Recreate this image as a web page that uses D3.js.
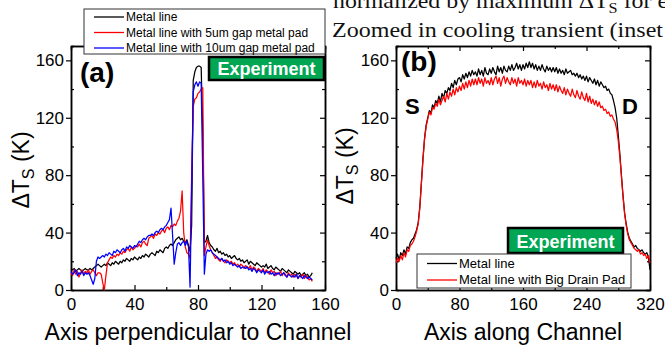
<!DOCTYPE html>
<html>
<head>
<meta charset="utf-8">
<script src="https://cdn.jsdelivr.net/npm/d3@7"></script>
<style>
  body { margin: 0; background: #fff; }
  svg { display: block; font-family: Arial, "Liberation Sans", sans-serif; }
</style>
</head>
<body>
<svg id="chart" width="665" height="345"></svg>
<script>
// panel (a): temperature rise across the channel, one sample per unit
const perpStart = 0, perpStep = 1;
const perpMetal = [
  15,14,15,13,14,15,14,13,14,15, 14,14,15,14,15,16,17,18,17,16,
  17,18,17,19,18,17,19,18,20,19, 18,20,19,21,20,22,21,20,22,21,
  23,22,21,23,22,24,23,25,24,23, 25,26,25,24,27,26,28,27,26,29,
  30,29,31,32,31,33,35,36,37,35, 36,34,33,35,31,27,45,146,152,155,
  156,156,155,110,33,34,38,33,31,30, 28,27,29,26,27,25,26,24,25,23,
  24,22,23,24,22,21,22,20,21,19, 20,21,18,20,19,18,17,19,18,17,
  16,17,16,18,15,16,17,15,14,16, 15,14,13,15,14,13,12,14,13,12,
  11,13,12,11,12,10,11,12,10,11, 9,10,12
];
const perpGap5 = [
  12,10,14,11,13,9,12,14,11,13, 12,14,11,13,14,12,10,12,12,11,
  5,0,10,19,21,23,22,24,23,25, 24,26,25,27,26,28,29,27,30,28,
  29,31,30,32,30,33,34,32,31,36, 37,38,36,39,38,40,39,41,42,40,
  43,44,42,45,44,46,45,48,50,55, 69,40,30,26,25,22,80,128,133,134,
  137,138,140,141,24,30,35,31,28,26, 24,22,23,21,20,22,20,19,21,20,
  19,20,18,19,17,18,16,18,17,15, 17,16,15,17,14,16,15,13,15,14,
  13,15,12,14,13,11,14,12,13,10, 12,11,13,10,12,11,9,12,10,11,
  9,11,10,8,10,9,11,8,10,9, 7,8,6
];
const perpGap10 = [
  13,11,12,14,10,12,11,13,10,12, 11,12,10,7,4,8,20,23,22,23,
  24,23,25,24,26,25,24,27,26,28, 27,26,28,29,27,30,29,31,30,29,
  31,30,32,34,33,35,36,35,37,38, 38,39,38,40,41,40,42,43,42,44,
  45,47,49,57,38,18,26,32,33,31, 33,34,31,34,30,2,70,138,143,145,
  142,145,144,80,11,25,28,27,28,26, 25,24,23,22,21,22,20,21,19,20,
  18,19,17,18,17,16,17,15,16,16, 15,16,14,15,13,15,14,12,14,13,
  12,14,11,13,12,13,11,12,10,12, 11,12,10,11,12,10,9,11,10,9,
  10,9,11,8,10,9,8,10,9,8, 9,8,7
];

// panel (b): temperature rise along the channel, one sample every 2 units
const alongStart = 0, alongStep = 2;
const alongMetal = [
  22,25,21,26,24,28,25,30,29,33,
  35,36,39,42,47,58,75,92,106,115,
  120,125,123,129,127,132,130,135,131,137,
  134,139,137,141,139,144,141,146,143,147,
  148,145,150,147,151,148,152,149,153,150,
  152,149,154,150,153,149,155,151,150,154,
  151,155,152,150,156,152,155,151,156,153,
  152,156,153,157,153,155,158,154,157,153,
  157,154,158,155,159,155,158,154,157,153,
  156,153,157,154,152,156,153,155,152,155,
  152,155,151,154,151,153,150,154,151,152,
  153,150,151,149,151,148,150,147,149,146,
  149,145,148,146,144,147,143,146,142,145,
  143,141,142,139,140,137,136,132,127,120,
  108,95,80,66,54,46,40,36,34,32,
  30,31,29,28,27,28,26,25,26,23,
  14
];
const alongDrainPad = [
  19,22,20,24,21,26,23,28,27,31,
  32,34,37,41,46,57,74,91,105,114,
  119,124,122,127,126,130,128,133,129,132,
  135,131,137,133,138,135,140,136,141,138,
  142,139,144,140,145,141,146,142,147,143,
  147,143,148,144,147,142,148,144,146,143,
  148,143,147,149,144,148,142,147,149,144,
  148,145,143,148,144,147,142,148,144,146,
  143,147,142,146,143,146,141,145,141,146,
  142,144,140,145,141,143,139,144,140,143,
  139,143,138,142,139,137,141,136,140,137,
  135,140,136,134,139,135,133,138,134,132,
  137,131,135,130,133,129,132,128,131,127,
  128,125,126,123,124,121,122,119,117,112,
  104,93,79,65,53,45,39,35,33,31,
  29,28,27,28,25,26,24,25,22,24,
  19
];

const tempTicks = [0, 40, 80, 120, 160];
const tempMinor = [20, 60, 100, 140];
const perpTicks = [0, 40, 80, 120, 160];
const perpMinor = [20, 60, 100, 140];
const alongTicks = [0, 80, 160, 240, 320];
const alongMinor = [40, 120, 200, 280];

const plotTop = 46, plotBottom = 290;
const svg = d3.select('#chart');

function styleAxis(g) {
  g.attr('font-family', 'Arial, "Liberation Sans", sans-serif').attr('font-size', 17);
  g.select('.domain').attr('stroke', '#000').attr('stroke-width', 1.5);
  g.selectAll('.tick line').attr('stroke', '#000').attr('stroke-width', 1.2);
  g.selectAll('.tick text').attr('fill', '#000');
}

function drawPanel(p) {
  const x = d3.scaleLinear().domain(p.xDomain).range([p.left, p.right]);
  const y = d3.scaleLinear().domain([0, 170]).range([plotBottom, plotTop]);
  const g = svg.append('g');

  // minor ticks (all inward)
  g.append('g').attr('transform', `translate(0,${plotBottom})`)
    .call(d3.axisBottom(x).tickValues(p.xMinor).tickSizeInner(-3).tickSizeOuter(0).tickFormat(''))
    .call(styleAxis);
  g.append('g').attr('transform', `translate(0,${plotTop})`)
    .call(d3.axisBottom(x).tickValues(p.xMinor).tickSize(3).tickFormat(''))
    .call(styleAxis);
  g.append('g').attr('transform', `translate(${p.left},0)`)
    .call(d3.axisRight(y).tickValues(tempMinor).tickSize(3).tickFormat(''))
    .call(styleAxis);
  g.append('g').attr('transform', `translate(${p.right},0)`)
    .call(d3.axisLeft(y).tickValues(tempMinor).tickSize(3).tickFormat(''))
    .call(styleAxis);

  // major ticks
  g.append('g').attr('transform', `translate(0,${plotBottom})`)
    .call(d3.axisBottom(x).tickValues(p.xTicks).tickSizeInner(-5).tickSizeOuter(0).tickPadding(8))
    .call(styleAxis);
  g.append('g').attr('transform', `translate(0,${plotTop})`)
    .call(d3.axisBottom(x).tickValues(p.xTicks).tickSizeInner(5).tickSizeOuter(0).tickFormat(''))
    .call(styleAxis);
  g.append('g').attr('transform', `translate(${p.left},0)`)
    .call(d3.axisLeft(y).tickValues(tempTicks).tickSizeInner(5).tickSizeOuter(0).tickPadding(2))
    .call(styleAxis);
  g.append('g').attr('transform', `translate(${p.right},0)`)
    .call(d3.axisLeft(y).tickValues(tempTicks).tickSizeInner(-5).tickSizeOuter(0).tickFormat(''))
    .call(styleAxis)
    .selectAll('.tick line').attr('x2', -5);

  // data
  p.series.forEach(s => {
    const line = d3.line()
      .x((d, i) => x(p.start + i * p.step))
      .y(d => y(d));
    g.append('path')
      .datum(s.values)
      .attr('fill', 'none')
      .attr('stroke', s.color)
      .attr('stroke-width', 1.25)
      .attr('stroke-linejoin', 'round')
      .attr('d', line);
  });

  // axis titles
  g.append('text')
    .attr('x', (p.left + p.right) / 2).attr('y', 339.5)
    .attr('text-anchor', 'middle').attr('font-size', 23)
    .text(p.xTitle);
  const yt = g.append('text')
    .attr('transform', `translate(${p.yTitleX},${p.yTitleY}) rotate(-90)`)
    .attr('text-anchor', 'middle').attr('font-size', 23);
  yt.append('tspan').text('\u0394T');
  yt.append('tspan').attr('font-size', 16).attr('dy', 5).text('S');
  yt.append('tspan').attr('dy', -5).text(' (K)');

  // panel letter
  g.append('text')
    .attr('x', p.letterX).attr('y', p.letterY)
    .attr('font-size', 28).attr('font-weight', 'bold')
    .text(p.letter);

  // "Experiment" tag
  const tag = g.append('g');
  tag.append('rect')
    .attr('x', p.tag[0]).attr('y', p.tag[1]).attr('width', 115).attr('height', p.tag[2])
    .attr('fill', '#00a651').attr('stroke', '#000').attr('stroke-width', 2.5);
  tag.append('text')
    .attr('x', p.tag[0] + 57.5).attr('y', p.tag[1] + p.tag[2] - 5)
    .attr('text-anchor', 'middle').attr('fill', '#fff')
    .attr('font-size', 18).attr('font-weight', 'bold')
    .text('Experiment');

  // legend
  const lg = g.append('g');
  lg.append('rect')
    .attr('x', p.legend.x).attr('y', p.legend.y)
    .attr('width', p.legend.w).attr('height', p.legend.h)
    .attr('fill', '#fff').attr('stroke', '#333').attr('stroke-width', 1);
  p.series.forEach((s, i) => {
    const ly = p.legend.y + p.legend.first + i * p.legend.gap;
    lg.append('line')
      .attr('x1', p.legend.x + 10).attr('x2', p.legend.x + 40)
      .attr('y1', ly).attr('y2', ly)
      .attr('stroke', s.color).attr('stroke-width', 1.3);
    lg.append('text')
      .attr('x', p.legend.x + 42).attr('y', ly + 4.3)
      .attr('font-size', p.legend.font)
      .text(s.name);
  });

  return {x, y, g};
}

// overlapping text from the page behind the figure
const bg = svg.append('g').attr('font-family', '"Liberation Serif", "Times New Roman", serif')
  .attr('font-size', 22).attr('fill', '#111');
const l1 = bg.append('text').attr('x', 333).attr('y', 8)
  .attr('textLength', 335).attr('lengthAdjust', 'spacingAndGlyphs');
l1.append('tspan').text('normalized by maximum \u0394T');
l1.append('tspan').attr('font-size', 15).attr('dy', 5).text('S');
l1.append('tspan').attr('dy', -5).text(' for e');
bg.append('text').attr('x', 332).attr('y', 36.5)
  .attr('textLength', 331).attr('lengthAdjust', 'spacingAndGlyphs')
  .text('Zoomed in cooling transient (inset');

drawPanel({
  left: 71, right: 325, xDomain: [0, 160], xTicks: perpTicks, xMinor: perpMinor,
  start: perpStart, step: perpStep,
  series: [
    {name: 'Metal line', color: '#000', values: perpMetal},
    {name: 'Metal line with 5um gap metal pad', color: '#ff0000', values: perpGap5},
    {name: 'Metal line with 10um gap metal pad', color: '#0000ff', values: perpGap10}
  ],
  xTitle: 'Axis perpendicular to Channel', yTitleX: 28.5, yTitleY: 170,
  letter: '(a)', letterX: 80, letterY: 82,
  tag: [209, 57, 23],
  legend: {x: 84, y: 9, w: 241, h: 45, first: 8, gap: 15.5, font: 12}
});

const b = drawPanel({
  left: 396, right: 650, xDomain: [0, 320], xTicks: alongTicks, xMinor: alongMinor,
  start: alongStart, step: alongStep,
  series: [
    {name: 'Metal line', color: '#000', values: alongMetal},
    {name: 'Metal line with Big Drain Pad', color: '#ff0000', values: alongDrainPad}
  ],
  xTitle: 'Axis along Channel', yTitleX: 353, yTitleY: 166,
  letter: '(b)', letterX: 401, letterY: 71,
  tag: [508, 228, 25],
  legend: {x: 417, y: 254, w: 214, h: 34, first: 9.5, gap: 16.5, font: 13}
});

b.g.append('text').attr('x', 405).attr('y', 114)
  .attr('font-size', 22).attr('font-weight', 'bold').text('S');
b.g.append('text').attr('x', 622).attr('y', 114)
  .attr('font-size', 22).attr('font-weight', 'bold').text('D');
</script>
</body>
</html>
